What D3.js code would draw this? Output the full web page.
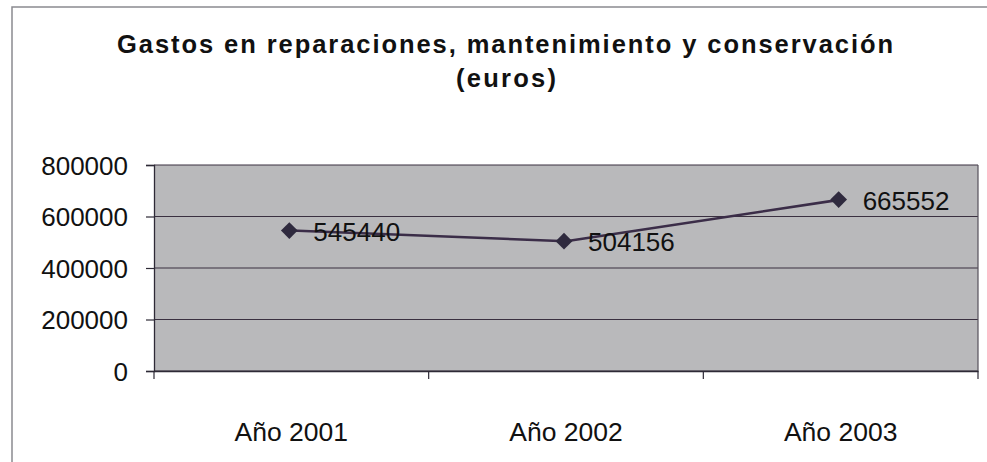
<!DOCTYPE html>
<html>
<head>
<meta charset="utf-8">
<script src="https://cdn.jsdelivr.net/npm/d3@7"></script>
<style>
  html, body { margin: 0; padding: 0; background: #ffffff; }
  svg { display: block; }
</style>
</head>
<body>
<svg id="chart" width="987" height="462"></svg>
<script>
const categories = ["Año 2001", "Año 2002", "Año 2003"];
const values = [545440, 504156, 665552];
const yTicks = [0, 200000, 400000, 600000, 800000];
const titleLines = ["Gastos en reparaciones, mantenimiento y conservación", "(euros)"];

const svg = d3.select("#chart");
const font = "'Liberation Sans', Arial, sans-serif";

// outer frame
svg.append("path")
  .attr("d", "M12,462 L12,7 L987,7")
  .attr("fill", "none")
  .attr("stroke", "#8a8a90")
  .attr("stroke-width", 1.5);

const plot = { left: 154, right: 978, top: 165, bottom: 371 };

const x = d3.scaleBand().domain(categories).range([plot.left, plot.right]).padding(0);
const y = d3.scaleLinear().domain([0, 800000]).range([plot.bottom, plot.top]);

// plot background
svg.append("rect")
  .attr("x", plot.left).attr("y", plot.top)
  .attr("width", plot.right - plot.left).attr("height", plot.bottom - plot.top)
  .attr("fill", "#b9b9bb");

// gridlines
svg.append("g").selectAll("line").data(yTicks).join("line")
  .attr("x1", plot.left).attr("x2", plot.right)
  .attr("y1", d => y(d)).attr("y2", d => y(d))
  .attr("stroke", "#3a3040").attr("stroke-width", 1.2);

// plot border (right side)
svg.append("line")
  .attr("x1", plot.right).attr("x2", plot.right)
  .attr("y1", plot.top).attr("y2", plot.bottom)
  .attr("stroke", "#55505a").attr("stroke-width", 1.2);

// y axis
const yAxis = svg.append("g")
  .attr("transform", `translate(${plot.left},0)`)
  .call(d3.axisLeft(y).tickValues(yTicks).tickSize(8).tickPadding(18).tickFormat(d3.format("d")));
yAxis.select(".domain").attr("stroke", "#2e2a36").attr("stroke-width", 1.3);
yAxis.selectAll(".tick line").attr("stroke", "#2e2a36").attr("stroke-width", 1.2);
yAxis.selectAll(".tick text")
  .attr("font-family", font).attr("font-size", 26).attr("fill", "#111")
  .attr("dy", "0.36em");

// x axis with ticks at band edges
const xAxis = svg.append("g")
  .attr("transform", `translate(0,${plot.bottom})`)
  .call(d3.axisBottom(x).tickSize(0).tickPadding(51));
xAxis.select(".domain").attr("stroke", "#2e2a36").attr("stroke-width", 1.3);
xAxis.selectAll(".tick text")
  .attr("font-family", font).attr("font-size", 26.5).attr("fill", "#111");
const edges = categories.map(c => x(c)).concat([x(categories[categories.length - 1]) + x.bandwidth()]);
xAxis.append("g").selectAll("line").data(edges).join("line")
  .attr("x1", d => d).attr("x2", d => d)
  .attr("y1", 0).attr("y2", 8)
  .attr("stroke", "#2e2a36").attr("stroke-width", 1.2);

// series
const data = categories.map((c, i) => ({ c, v: values[i] }));
const cx = d => x(d.c) + x.bandwidth() / 2;

svg.append("path")
  .datum(data)
  .attr("fill", "none")
  .attr("stroke", "#3b2d48")
  .attr("stroke-width", 2.6)
  .attr("d", d3.line().x(cx).y(d => y(d.v)));

svg.append("g").selectAll("path").data(data).join("path")
  .attr("d", d3.symbol(d3.symbolSquare, 140)())
  .attr("transform", d => `translate(${cx(d) - 2},${y(d.v)}) rotate(45)`)
  .attr("fill", "#2f2a3e");

svg.append("g").selectAll("text").data(data).join("text")
  .attr("x", d => cx(d) + 22)
  .attr("y", d => y(d.v) + 10)
  .attr("font-family", font).attr("font-size", 26).attr("fill", "#111")
  .text(d => d.v);

// title
const title = svg.append("g");
title.append("text")
  .attr("x", 117).attr("y", 53)
  .attr("font-family", font).attr("font-size", 25.5).attr("font-weight", "bold").attr("fill", "#111")
  .attr("textLength", 776).attr("lengthAdjust", "spacing")
  .text(titleLines[0]);
title.append("text")
  .attr("x", 456).attr("y", 87)
  .attr("font-family", font).attr("font-size", 25.5).attr("font-weight", "bold").attr("fill", "#111")
  .attr("textLength", 100).attr("lengthAdjust", "spacing")
  .text(titleLines[1]);
</script>
</body>
</html>
